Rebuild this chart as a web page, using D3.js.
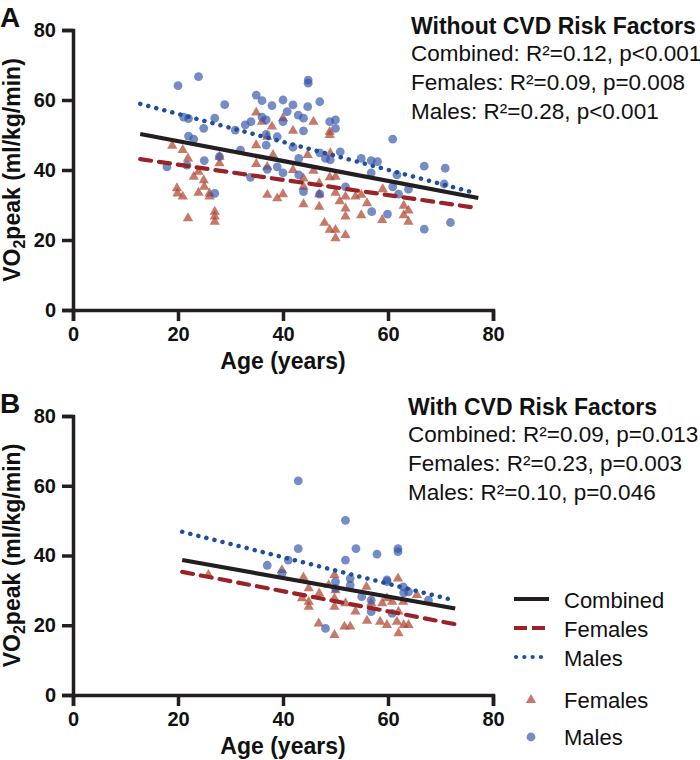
<!DOCTYPE html>
<html>
<head>
<meta charset="utf-8">
<script src="https://cdn.jsdelivr.net/npm/d3@7"></script>
<style>
  html, body { margin: 0; padding: 0; background: #fff; }
  svg { display: block; font-family: "Liberation Sans", Arial, Helvetica, sans-serif; }
</style>
</head>
<body>
<svg id="chart" width="700" height="760"></svg>
<script>
// ---------- DATA ----------
const xTicks = [0, 20, 40, 60, 80];
const yTicks = [0, 20, 40, 60, 80];

// Panel A: without CVD risk factors  [age, VO2peak]
const femalesA = [
  [18.9,46.9],[20.9,45.7],[21.9,43.3],[23.0,38.1],[23.9,39.5],[24.9,37.1],[25.0,35.2],[23.9,33.5],
  [26.0,33.3],[26.0,32.4],[19.8,34.8],[19.9,33.3],[20.9,32.4],[21.9,26.2],[27.0,28.1],[27.0,26.7],
  [27.0,25.2],[27.9,43.8],[27.9,41.9],[34.9,56.4],[36.0,53.8],[37.9,52.4],[40.0,54.8],[41.9,51.2],
  [34.9,47.1],[37.0,49.5],[38.1,44.3],[34.9,41.7],[37.0,40.9],[37.0,32.9],[38.9,31.9],[40.0,33.1],
  [41.9,40.0],[43.9,37.6],[43.9,30.2],[43.9,35.2],[44.7,44.3],[45.8,53.8],[48.9,50.0],[48.9,50.9],
  [49.0,44.8],[45.8,39.8],[48.9,37.9],[50.0,38.1],[46.9,36.2],[46.9,33.1],[46.9,29.5],[50.0,33.5],
  [50.8,31.1],[51.9,29.0],[51.9,32.4],[53.8,32.4],[54.9,32.9],[56.0,30.5],[54.9,27.1],[51.9,26.7],
  [59.0,34.5],[58.9,25.7],[63.0,29.8],[63.9,28.4],[63.9,25.2],[63.0,27.1],[47.9,24.9],[48.9,22.9],
  [50.0,22.9],[50.0,20.5],[51.9,21.4]
];
const malesA = [
  [20.0,64.1],[23.9,66.7],[28.9,58.7],[21.1,55.1],[22.0,54.7],[27.0,54.8],[24.9,51.9],[22.0,49.7],
  [23.0,48.8],[17.9,40.9],[25.0,42.7],[27.9,43.8],[27.0,33.3],[30.9,51.4],[31.9,45.7],[33.8,37.9],
  [34.9,61.4],[36.0,59.8],[37.9,58.4],[40.0,60.0],[41.9,58.6],[40.8,56.7],[42.9,55.7],[44.7,58.1],
  [44.8,65.7],[44.8,64.8],[32.8,52.9],[33.9,53.8],[36.8,54.3],[40.0,53.8],[43.9,51.2],[36.8,50.2],
  [38.9,49.5],[41.9,46.5],[36.8,47.1],[37.0,40.2],[38.9,40.9],[40.0,39.2],[43.0,43.3],[43.0,38.6],
  [43.9,33.8],[21.7,41.4],[36.0,55.1],[43.9,54.8],[47.0,59.5],[48.9,53.8],[50.0,54.3],[50.0,51.9],
  [60.9,48.8],[47.0,44.9],[48.1,43.3],[50.9,45.2],[49.0,42.9],[54.9,43.3],[56.8,42.7],[58.0,42.4],
  [56.8,39.2],[61.7,38.6],[66.9,41.1],[70.9,40.5],[70.7,36.0],[60.9,35.2],[63.9,34.5],[62.0,33.1],
  [51.9,35.2],[47.0,33.1],[56.9,28.1],[59.9,27.4],[66.9,23.1],[71.9,25.0]
];
// regression lines [start, end] as [age, VO2peak]
const fitCombinedA = [[12.8,50.3],[77.2,32.0]];
const fitFemalesA  = [[12.8,43.1],[77.2,29.1]];
const fitMalesA    = [[12.8,58.9],[76.4,33.5]];
const statsA = ["Without CVD Risk Factors",
  "Combined: R\u00B2=0.12, p<0.001",
  "Females: R\u00B2=0.09, p=0.008",
  "Males: R\u00B2=0.28, p<0.001"];

// Panel B: with CVD risk factors
const femalesB = [
  [25.8,34.4],[39.8,35.8],[43.9,33.7],[44.9,30.6],[43.6,27.7],[44.9,26.7],[44.9,25.3],[46.9,29.1],
  [49.8,34.4],[48.7,31.5],[49.8,27.7],[49.8,25.3],[51.9,26.3],[53.8,23.9],[55.9,31.0],[56.8,26.3],
  [56.0,21.3],[58.9,26.3],[59.8,27.7],[60.8,26.7],[61.9,33.4],[62.9,26.7],[58.5,21.0],[59.8,20.1],
  [61.7,21.0],[63.0,20.1],[63.9,20.1],[65.5,28.7],[46.8,20.5],[51.7,19.6],[52.8,19.6],[62.0,23.9],
  [49.8,17.2],[62.0,17.7],[50.0,30.0]
];
const malesB = [
  [42.9,61.4],[51.9,50.1],[42.9,42.0],[53.9,42.0],[57.9,40.4],[61.9,42.0],[61.9,41.1],[51.9,38.7],
  [37.0,37.2],[41.0,38.7],[39.8,34.9],[50.0,32.5],[50.0,30.6],[52.8,33.4],[52.8,31.5],[59.8,33.0],
  [59.8,32.5],[62.9,31.0],[63.0,29.3],[63.9,29.6],[55.0,28.2],[56.8,27.2],[56.8,23.9],[60.8,23.4],
  [67.7,27.2],[48.1,19.1]
];
const fitCombinedB = [[20.8,38.7],[72.8,24.8]];
const fitFemalesB  = [[20.8,35.3],[72.8,20.3]];
const fitMalesB    = [[20.8,46.8],[72.4,27.2]];
const statsB = ["With CVD Risk Factors",
  "Combined: R\u00B2=0.09, p=0.013",
  "Females: R\u00B2=0.23, p=0.003",
  "Males: R\u00B2=0.10, p=0.046"];

const legendLines = ["Combined", "Females", "Males"];
const legendMarkers = ["Females", "Males"];

// ---------- STYLE ----------
const C = {
  axis: "#231f20",
  tri: "#b0452f",
  circ: "#3356aa",
  combined: "#231f20",
  females: "#992428",
  males: "#1f4f9c"
};
const lineStyles = {
  Combined: {color: C.combined, dash: null, cap: "butt"},
  Females:  {color: C.females, dash: "11,8", cap: "round"},
  Males:    {color: C.males, dash: "0.1,8.2", cap: "round"}
};

const svg = d3.select("#chart");

function panel(opts) {
  const {top, bottom, label, females, males, fits, stats, statsX, statsY} = opts;
  const x = d3.scaleLinear().domain([0, 80]).range([73, 493]);
  const y = d3.scaleLinear().domain([0, 80]).range([bottom, top]);
  const g = svg.append("g");

  // axes
  const xAxis = d3.axisBottom(x).tickValues(xTicks).tickSize(11).tickPadding(8);
  const yAxis = d3.axisLeft(y).tickValues(yTicks).tickSize(11).tickPadding(6);
  const gx = g.append("g").attr("transform", `translate(0,${bottom})`).call(xAxis);
  const gy = g.append("g").attr("transform", `translate(${x(0)},0)`).call(yAxis);
  [gx, gy].forEach(a => {
    a.select(".domain").attr("stroke", C.axis).attr("stroke-width", 3.5);
    a.selectAll(".tick line").attr("stroke", C.axis).attr("stroke-width", 3.5);
    a.selectAll(".tick text").attr("fill", "#111").attr("font-size", 20)
      .attr("font-weight", "bold").attr("font-family", "Liberation Sans, Arial, sans-serif");
  });
  gx.selectAll(".tick text").attr("dy", "0.62em");

  // axis titles
  g.append("text").attr("x", 283).attr("y", bottom + 59)
    .attr("text-anchor", "middle").attr("font-size", 23).attr("font-weight", "bold")
    .attr("fill", "#111").text("Age (years)");
  const yl = g.append("text")
    .attr("transform", `translate(20,${(top + bottom) / 2}) rotate(-90)`)
    .attr("text-anchor", "middle").attr("font-size", 23).attr("font-weight", "bold").attr("fill", "#111");
  yl.append("tspan").text("VO");
  yl.append("tspan").attr("font-size", 16).attr("dy", 5).text("2");
  yl.append("tspan").attr("dy", -5).text("peak (ml/kg/min)");

  // panel letter
  g.append("text").attr("x", 0).attr("y", top - 3).attr("font-size", 28)
    .attr("font-weight", "bold").attr("fill", "#111").text(label);

  // points
  const tri = d3.symbol().type(d3.symbolTriangle).size(46);
  g.append("g").selectAll("path").data(females).join("path")
    .attr("d", tri)
    .attr("transform", d => `translate(${x(d[0])},${y(d[1])})`)
    .attr("fill", C.tri).attr("fill-opacity", 0.72);
  g.append("g").selectAll("circle").data(males).join("circle")
    .attr("cx", d => x(d[0])).attr("cy", d => y(d[1])).attr("r", 4.4)
    .attr("fill", C.circ).attr("fill-opacity", 0.68);

  // fit lines
  const line = d3.line().x(d => x(d[0])).y(d => y(d[1]));
  fits.forEach(f => {
    const s = lineStyles[f.name];
    g.append("path").attr("d", line(f.pts)).attr("fill", "none")
      .attr("stroke", s.color).attr("stroke-width", f.name === "Males" ? 4.5 : 4.2)
      .attr("stroke-dasharray", s.dash).attr("stroke-linecap", s.cap);
  });

  // stats text
  const st = g.append("g").attr("transform", `translate(${statsX},${statsY})`);
  stats.forEach((t, i) => {
    st.append("text").attr("x", 0).attr("y", i === 0 ? 0 : 27 + (i - 1) * 29)
      .attr("font-size", i === 0 ? 23 : 22.5).attr("font-weight", i === 0 ? "bold" : "normal")
      .attr("fill", "#111").text(t);
  });
}

panel({top: 30, bottom: 310, label: "A", females: femalesA, males: malesA,
  fits: [{name: "Combined", pts: fitCombinedA}, {name: "Females", pts: fitFemalesA}, {name: "Males", pts: fitMalesA}],
  stats: statsA, statsX: 411, statsY: 34});

panel({top: 416, bottom: 695, label: "B", females: femalesB, males: malesB,
  fits: [{name: "Combined", pts: fitCombinedB}, {name: "Females", pts: fitFemalesB}, {name: "Males", pts: fitMalesB}],
  stats: statsB, statsX: 408, statsY: 415});

// legend
const lg = svg.append("g");
legendLines.forEach((name, i) => {
  const s = lineStyles[name];
  const yy = 599 + i * 29;
  lg.append("line").attr("x1", name === "Males" ? 516 : 514).attr("x2", name === "Males" ? 545 : 549)
    .attr("y1", yy).attr("y2", yy)
    .attr("stroke", s.color).attr("stroke-width", 4.2)
    .attr("stroke-dasharray", name === "Females" ? "13,5" : s.dash)
    .attr("stroke-linecap", name === "Males" ? "round" : "butt");
  lg.append("text").attr("x", 564).attr("y", yy + 9).attr("font-size", 22)
    .attr("fill", "#111").text(name);
});
legendMarkers.forEach((name, i) => {
  const yy = 700 + i * 37;
  if (name === "Females") {
    lg.append("path").attr("d", d3.symbol().type(d3.symbolTriangle).size(46))
      .attr("transform", `translate(531,${yy})`).attr("fill", C.tri).attr("fill-opacity", 0.72);
  } else {
    lg.append("circle").attr("cx", 531).attr("cy", yy).attr("r", 4.4)
      .attr("fill", C.circ).attr("fill-opacity", 0.68);
  }
  lg.append("text").attr("x", 564).attr("y", yy + 8).attr("font-size", 22)
    .attr("fill", "#111").text(name);
});
</script>
</body>
</html>
